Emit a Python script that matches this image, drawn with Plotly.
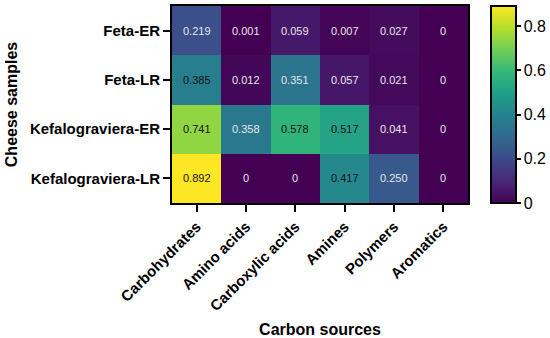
import plotly.graph_objects as go

samples = ["Feta-ER", "Feta-LR", "Kefalograviera-ER", "Kefalograviera-LR"]
sources = ["Carbohydrates", "Amino acids", "Carboxylic acids", "Amines", "Polymers", "Aromatics"]
values = [
    [0.219, 0.001, 0.059, 0.007, 0.027, 0],
    [0.385, 0.012, 0.351, 0.057, 0.021, 0],
    [0.741, 0.358, 0.578, 0.517, 0.041, 0],
    [0.892, 0, 0, 0.417, 0.250, 0],
]
labels = [
    ["0.219", "0.001", "0.059", "0.007", "0.027", "0"],
    ["0.385", "0.012", "0.351", "0.057", "0.021", "0"],
    ["0.741", "0.358", "0.578", "0.517", "0.041", "0"],
    ["0.892", "0", "0", "0.417", "0.250", "0"],
]
cbar_ticks = [0, 0.2, 0.4, 0.6, 0.8]
cbar_ticktext = ["0", "0.2", "0.4", "0.6", "0.8"]

FONT = "Liberation Sans, Arial, sans-serif"

fig = go.Figure()
fig.add_trace(go.Heatmap(
    z=values, x=sources, y=samples,
    colorscale="Viridis", zmin=0, zmax=max(max(r) for r in values),
    colorbar=dict(
        x=1.0777, xanchor="left", y=0.5, yanchor="middle", len=1.0, lenmode="fraction",
        thickness=25, thicknessmode="pixels",
        outlinewidth=2, outlinecolor="black",
        tickvals=cbar_ticks, ticktext=cbar_ticktext,
        ticks="outside", ticklen=4, tickwidth=2, tickcolor="black",
        tickfont=dict(family=FONT, size=16, color="black"),
        xpad=0, ypad=0,
    ),
    hoverinfo="skip",
))

for i, s in enumerate(samples):
    for j, c in enumerate(sources):
        v = values[i][j]
        col = "#111111" if v > 0.37 else "#e6e6e6"
        fig.add_annotation(x=c, y=s, text=labels[i][j], showarrow=False,
                           font=dict(family=FONT, size=11, color=col))

fig.update_xaxes(
    automargin=False,
    showline=True, linecolor="black", linewidth=2, mirror=True,
    ticks="outside", ticklen=7, tickwidth=2, tickcolor="black",
    tickangle=-45, tickfont=dict(family=FONT, size=15, color="black", weight="bold"),
    title=dict(text="<b>Carbon sources</b>", font=dict(family=FONT, size=16, color="black"), standoff=14),
)
fig.update_yaxes(
    automargin=False,
    autorange="reversed",
    showline=True, linecolor="black", linewidth=2, mirror=True,
    ticks="outside", ticklen=7, tickwidth=2, tickcolor="black",
    tickfont=dict(family=FONT, size=15, color="black", weight="bold"),
    title=dict(text="<b>Cheese samples</b>", font=dict(family=FONT, size=16, color="black"), standoff=8),
)

fig.update_layout(
    width=550, height=338,
    margin=dict(l=172, r=82, t=6, b=135, autoexpand=False),
    paper_bgcolor="white", plot_bgcolor="white",
    font=dict(family=FONT),
)

fig.write_html("out.html", config={"displayModeBar": False},
               post_script="document.body.style.margin='0';document.body.style.overflow='hidden';")
